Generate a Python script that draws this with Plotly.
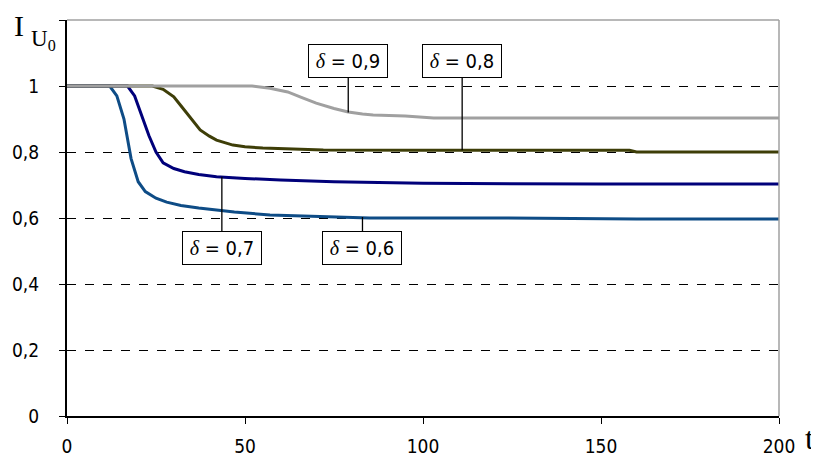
import plotly.graph_objects as go

# ---- data ----
t_06 = [0, 12, 14, 16, 18, 20, 22, 25, 28, 32, 37, 42, 47, 57, 70, 85, 120, 160, 200]
i_06 = [1, 1, 0.97, 0.9, 0.78, 0.71, 0.68, 0.66, 0.648, 0.638, 0.63, 0.623, 0.618, 0.609, 0.604, 0.60, 0.60, 0.597, 0.597]

t_07 = [0, 17, 19, 21, 23, 25, 27, 30, 33, 37, 42, 50, 60, 75, 100, 150, 200]
i_07 = [1, 1, 0.97, 0.91, 0.85, 0.80, 0.767, 0.75, 0.74, 0.732, 0.725, 0.72, 0.715, 0.71, 0.705, 0.703, 0.703]

t_08 = [0, 24, 27, 30, 32, 34.5, 37.4, 40, 42, 46.6, 50, 55, 65, 72, 100, 158, 160, 200]
i_08 = [1, 1, 0.99, 0.967, 0.94, 0.906, 0.867, 0.848, 0.836, 0.821, 0.816, 0.812, 0.808, 0.806, 0.805, 0.805, 0.80, 0.80]

t_09 = [0, 52, 57, 62, 66, 70, 75, 79, 83, 86, 95, 103, 200]
i_09 = [1, 1, 0.993, 0.982, 0.965, 0.948, 0.932, 0.921, 0.915, 0.912, 0.909, 0.903, 0.903]

series_names = ["δ = 0,6", "δ = 0,7", "δ = 0,8", "δ = 0,9"]
label_t = [83, 43.5, 111, 79]
label_i = [0.603, 0.725, 0.805, 0.92]

x_ticks = [0, 50, 100, 150, 200]
y_ticks = [0, 0.2, 0.4, 0.6, 0.8, 1.0, 1.2]
y_ticktext = ["0", "0,2", "0,4", "0,6", "0,8", "1", ""]

colors = ["#0E4C86", "#00007A", "#3E3E08", "#A0A0A0"]

fig = go.Figure()
for tx, iy, c, n in zip([t_06, t_07, t_08, t_09], [i_06, i_07, i_08, i_09], colors, series_names):
    fig.add_trace(go.Scatter(x=tx, y=iy, mode="lines", line=dict(color=c, width=3), name=n, showlegend=False))

num_font = "DejaVu Sans Condensed, sans-serif"
serif = "Liberation Serif, Times New Roman, serif"

# labels with leader lines: offsets (pixels) from the curve point to the box center
offsets = [(0, 31), (0, 71), (0, -89), (0, -51)]
for n, tx, iy, (ax, ay) in zip(series_names, label_t, label_i, offsets):
    d, rest = n.split(" = ")
    fig.add_annotation(
        x=tx, y=iy, xref="x", yref="y",
        text="<i><span style='font-family:" + serif + "'>" + d + "</span></i> = " + rest,
        showarrow=True, arrowhead=0, arrowwidth=1.3, arrowcolor="#000000",
        ax=ax, ay=ay,
        font=dict(family=num_font, size=20, color="#000000"),
        bordercolor="#000000", borderwidth=1, borderpad=2, bgcolor="#FFFFFF",
        width=74, height=28,
    )

# axis titles (positions relative to the plot area: page px 67..779 x, 20..416 y)
fig.add_annotation(text="I", xref="paper", yref="paper", x=(19 - 67) / 712, y=(416 - 26) / 396,
                   showarrow=False, xanchor="center", yanchor="middle",
                   font=dict(family=serif, size=30, color="#000"))
fig.add_annotation(text="U<sub>0</sub>", xref="paper", yref="paper", x=(29 - 67) / 712, y=(416 - 40) / 396,
                   showarrow=False, xanchor="left", yanchor="middle",
                   font=dict(family=serif, size=23, color="#000"))
fig.add_annotation(text="t", xref="paper", yref="paper", x=(809 - 67) / 712, y=(416 - 438) / 396,
                   showarrow=False, xanchor="center", yanchor="middle",
                   font=dict(family=serif, size=32, color="#000"))

# grey top/right border
fig.add_shape(type="line", xref="paper", yref="paper", x0=0, x1=1, y0=1, y1=1,
              line=dict(color="#A0A0A0", width=1.5), layer="above")
fig.add_shape(type="line", xref="paper", yref="paper", x0=1, x1=1, y0=0, y1=1,
              line=dict(color="#A0A0A0", width=1.5), layer="above")

# the page body adds an 8px offset, so the figure is 8px smaller and margins compensate
fig.update_layout(
    width=811, height=458,
    margin=dict(l=59, r=40, t=12, b=50, autoexpand=False),
    plot_bgcolor="#FFFFFF", paper_bgcolor="#FFFFFF",
    separators=", ",
    showlegend=False,
    xaxis=dict(range=[0, 200], tickvals=x_ticks, ticks="outside", ticklen=6, tickcolor="#000",
               showgrid=False, zeroline=False, showline=True, linecolor="#000", linewidth=2,
               automargin=False,
               tickfont=dict(family=num_font, size=19, color="#000"), ticklabelstandoff=6),
    yaxis=dict(range=[0, 1.2], tickvals=y_ticks, ticktext=y_ticktext, ticks="outside", ticklen=6,
               tickcolor="#000", showgrid=True, gridcolor="#000", griddash="dash", gridwidth=1,
               zeroline=False, showline=True, linecolor="#000", linewidth=2, automargin=False,
               tickfont=dict(family=num_font, size=19, color="#000"), ticklabelstandoff=16),
)

fig.write_html("out.html")
